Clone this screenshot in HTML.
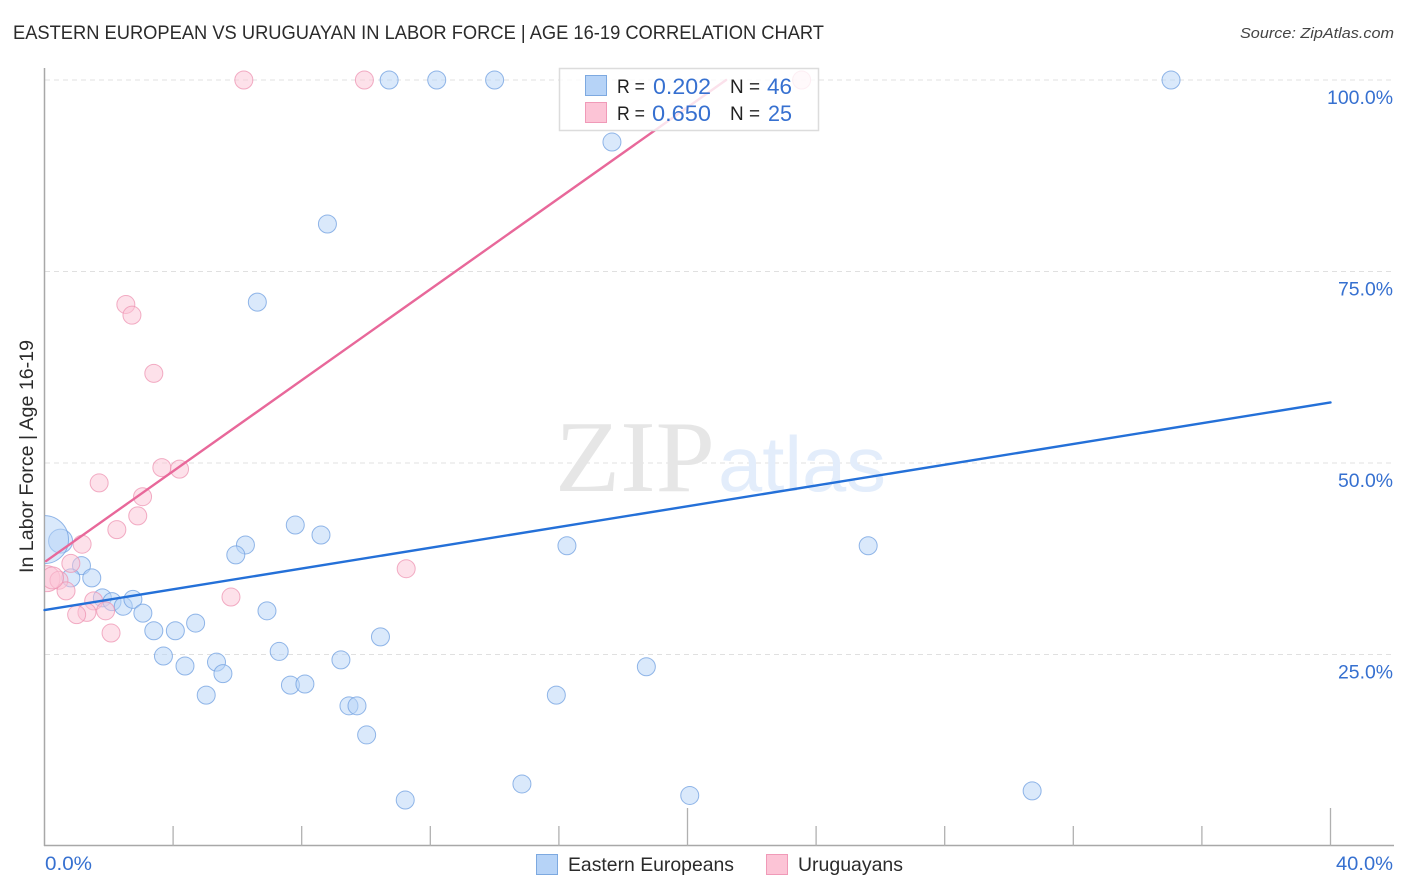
<!DOCTYPE html>
<html lang="en">
<head>
<meta charset="utf-8">
<title>Eastern European vs Uruguayan in Labor Force | Age 16-19 Correlation Chart</title>
<style>
html,body{margin:0;padding:0;background:#fff;}
svg{display:block;font-family:"Liberation Sans",sans-serif;}
</style>
</head>
<body>
<svg id="chart" width="1406" height="892" viewBox="0 0 1406 892" xmlns="http://www.w3.org/2000/svg">
  <defs><clipPath id="plot-clip"><rect x="45" y="60" width="1350" height="786"/></clipPath></defs>
  <g id="grid"></g>
  <g>
    <text x="555" y="491" font-family="'Liberation Serif',serif" font-size="102" fill="#e6e6e6" textLength="160" lengthAdjust="spacingAndGlyphs">ZIP</text>
    <text x="718" y="491" font-size="78" fill="#e3edfb" textLength="168" lengthAdjust="spacingAndGlyphs">atlas</text>
  </g>
  <g id="axes"></g>
  <g id="blue-points" clip-path="url(#plot-clip)"></g>
  <g id="pink-points" clip-path="url(#plot-clip)"></g>
  <g id="lines"></g>

  <text x="13" y="39" font-size="19" fill="#2b2b2b" textLength="811" lengthAdjust="spacingAndGlyphs">EASTERN EUROPEAN VS URUGUAYAN IN LABOR FORCE | AGE 16-19 CORRELATION CHART</text>
  <text x="1394" y="38" font-size="15" font-style="italic" fill="#444" text-anchor="end" textLength="154" lengthAdjust="spacingAndGlyphs">Source: ZipAtlas.com</text>
  <text transform="translate(33,573) rotate(-90)" font-size="19" fill="#2b2b2b" textLength="233" lengthAdjust="spacingAndGlyphs">In Labor Force | Age 16-19</text>

  <g>
    <rect x="559.5" y="68.5" width="259" height="62" fill="#fff" fill-opacity="0.8" stroke="#dcdcdc" stroke-width="1.5"/>
    <rect x="585.5" y="75.5" width="21" height="20" fill="#b6d3f7" stroke="#7da9e0"/>
    <rect x="585.5" y="102.5" width="21" height="20" fill="#fcc4d6" stroke="#f09ab8"/>
    <text x="617" y="93" font-size="19.5" fill="#222" textLength="28" lengthAdjust="spacingAndGlyphs">R =</text>
    <text x="653" y="94" font-size="22" fill="#3670d0" textLength="58" lengthAdjust="spacingAndGlyphs">0.202</text>
    <text x="730" y="93" font-size="19.5" fill="#222" textLength="30" lengthAdjust="spacingAndGlyphs">N =</text>
    <text x="767" y="94" font-size="22" fill="#3670d0" textLength="25" lengthAdjust="spacingAndGlyphs">46</text>
    <text x="617" y="120" font-size="19.5" fill="#222" textLength="28" lengthAdjust="spacingAndGlyphs">R =</text>
    <text x="652" y="121" font-size="22" fill="#3670d0" textLength="59" lengthAdjust="spacingAndGlyphs">0.650</text>
    <text x="730" y="120" font-size="19.5" fill="#222" textLength="30" lengthAdjust="spacingAndGlyphs">N =</text>
    <text x="768" y="121" font-size="22" fill="#3670d0" textLength="24" lengthAdjust="spacingAndGlyphs">25</text>
  </g>

  <g>
    <rect x="536.5" y="854.5" width="21" height="20" fill="#b6d3f7" stroke="#7da9e0"/>
    <text x="568" y="871" font-size="19.5" fill="#2b2b2b" textLength="166" lengthAdjust="spacingAndGlyphs">Eastern Europeans</text>
    <rect x="766.5" y="854.5" width="21" height="20" fill="#fcc4d6" stroke="#f09ab8"/>
    <text x="798" y="871" font-size="19.5" fill="#2b2b2b" textLength="105" lengthAdjust="spacingAndGlyphs">Uruguayans</text>
  </g>
</svg>
<script>
// Chart data (percent values)
const yTicks = [100, 75, 50, 25];
const yTickLabels = ["100.0%", "75.0%", "50.0%", "25.0%"];
const xTickValues = [0, 4, 8, 12, 16, 20, 24, 28, 32, 36, 40];
const xMajorTicks = [20, 40];
const xEndLabels = ["0.0%", "40.0%"];

const blueX = [10.72,12.2,14.0,35.04,17.65,8.8,6.62,7.8,8.6,6.25,5.95,16.25,25.62,0.5,0,1.15,0.82,1.47,1.8,2.1,2.45,2.75,3.06,3.4,4.07,4.7,6.92,3.7,4.37,5.35,5.55,5.03,7.3,7.65,8.1,9.22,10.45,9.47,9.72,10.02,11.22,14.85,20.07,30.72,18.72,15.92];
const blueY = [100,100,100,100,91.9,81.2,71,41.9,40.6,39.3,38,39.2,39.2,39.8,40,36.6,35,35,32.4,31.9,31.3,32.2,30.4,28.1,28.1,29.1,30.7,24.8,23.5,24,22.5,19.7,25.4,21,21.15,24.3,27.3,18.3,18.3,14.5,6,8.1,6.6,7.2,23.4,19.7];
const blueR = [9,9,9,9,9,9,9,9,9,9,9,9,9,12,24,9,9,9,9,9,9,9,9,9,9,9,9,9,9,9,9,9,9,9,9,9,9,9,9,9,9,9,9,9,9,9];

const pinkX = [6.2,9.95,23.55,2.53,2.72,3.4,3.65,4.2,1.7,3.05,2.9,2.25,1.17,0.82,11.25,0.08,0.45,0.67,1.53,5.8,1.32,1.9,1.0,2.07,0.25];
const pinkY = [100,100,100,70.7,69.3,61.7,49.4,49.2,47.4,45.6,43.1,41.3,39.4,36.9,36.2,34.9,34.7,33.3,32,32.5,30.5,30.7,30.2,27.8,35];
const pinkR = [9,9,9,9,9,9,9,9,9,9,9,9,9,9,9,13,9,9,9,9,9,9,9,9,11];

const blueTrendX = [0, 40];
const blueTrendY = [30.8, 57.9];
const pinkTrendX = [0.05, 21.2];
const pinkTrendY = [37.2, 100];

// Axis functions
const xScale = v => 44.5 + v * (1330.5 - 44.5) / 40;
const yScale = v => 846 - v * 7.66;

const NS = "http://www.w3.org/2000/svg";
function mk(parent, tag, attrs, text) {
  const el = document.createElementNS(NS, tag);
  for (const k in attrs) el.setAttribute(k, attrs[k]);
  if (text !== undefined) el.textContent = text;
  parent.appendChild(el);
  return el;
}
const grid = document.getElementById("grid");
const axes = document.getElementById("axes");

yTicks.forEach((t, i) => {
  const line = mk(grid, "line", {x1: 45, x2: 1393, y1: yScale(t), y2: yScale(t), stroke: "#e0e0e0", "stroke-width": 1, "stroke-dasharray": "5 4"});
  
  
  const label = mk(axes, "text", {x: 1393, y: yScale(t) + 24, "font-size": 19, fill: "#3670d0", "text-anchor": "end", textLength: i === 0 ? 66 : 55, lengthAdjust: "spacingAndGlyphs"}, yTickLabels[i]);
  
  
});

const yAxis = mk(axes, "line", {x1: 44.5, x2: 44.5, y1: 68, y2: 846, stroke: "#a8a8a8", "stroke-width": 1.5});


const xAxis = mk(axes, "line", {x1: 44, x2: 1394, y1: 845.5, y2: 845.5, stroke: "#a8a8a8", "stroke-width": 1.5});



xTickValues.slice(1).forEach(t => {
  const top = xMajorTicks.includes(t) ? 808 : 826;
  const tick = mk(axes, "line", {x1: xScale(t), x2: xScale(t), y1: top, y2: 846, stroke: "#b0b0b0", "stroke-width": 1.3});
  
  
});

const xLabelLeft = mk(axes, "text", {x: 45, y: 870, "font-size": 19, fill: "#3670d0", textLength: 47, lengthAdjust: "spacingAndGlyphs"}, xEndLabels[0]);


const xLabelRight = mk(axes, "text", {x: 1336, y: 870, "font-size": 19, fill: "#3670d0", textLength: 57, lengthAdjust: "spacingAndGlyphs"}, xEndLabels[1]);



const bluePoints = document.getElementById("blue-points");
blueX.forEach((v, i) => {
  const c = mk(bluePoints, "circle", {cx: xScale(v), cy: yScale(blueY[i]), r: blueR[i], fill: "#b6d3f7", "fill-opacity": 0.5, stroke: "#6f9fe0", "stroke-opacity": 0.75, "stroke-width": 1});
  
  
});
const pinkPoints = document.getElementById("pink-points");
pinkX.forEach((v, i) => {
  const c = mk(pinkPoints, "circle", {cx: xScale(v), cy: yScale(pinkY[i]), r: pinkR[i], fill: "#fcc4d6", "fill-opacity": 0.5, stroke: "#ee93b2", "stroke-opacity": 0.75, "stroke-width": 1});
  
  
});

const lines = document.getElementById("lines");
const blueLine = mk(lines, "line", {x1: xScale(blueTrendX[0]), y1: yScale(blueTrendY[0]), x2: xScale(blueTrendX[1]), y2: yScale(blueTrendY[1]), stroke: "#2470d8", "stroke-width": 2.4, "stroke-linecap": "round"});


const pinkLine = mk(lines, "line", {x1: xScale(pinkTrendX[0]), y1: yScale(pinkTrendY[0]), x2: xScale(pinkTrendX[1]), y2: yScale(pinkTrendY[1]), stroke: "#e8689a", "stroke-width": 2.4, "stroke-linecap": "round"});


</script>
</body>
</html>
